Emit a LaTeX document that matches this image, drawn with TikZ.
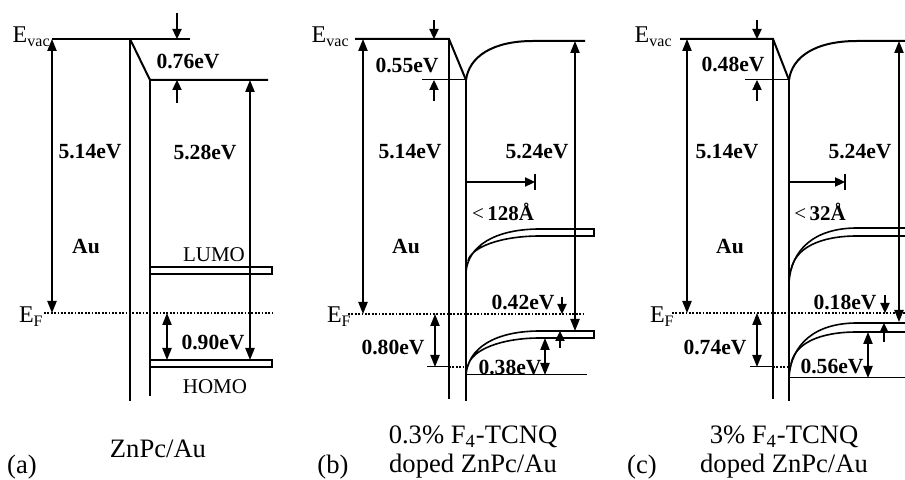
\documentclass[tikz,border=0pt]{standalone}
\usepackage{fontspec}
\setmainfont{Liberation Serif}
\usetikzlibrary{arrows.meta}

\begin{document}
\begin{tikzpicture}[
    x=0.5pt, y=-0.5pt,
    >={Triangle[length=6pt, width=4.6pt]},
    band/.style={line width=1pt},
    thinband/.style={line width=0.5pt},
    bar/.style={line width=0.8pt},
    gap/.style={line width=0.8pt, <->},
    nudge/.style={line width=0.8pt, ->, >={Triangle[length=5pt, width=4.6pt]}},
    fermi/.style={line width=1.4pt, dash pattern=on 0.9pt off 0.8pt},
    val/.style={font=\fontsize{10.8}{12}\selectfont\bfseries, inner sep=0pt},
    tag/.style={font=\fontsize{10.5}{12}\selectfont, inner sep=0pt},
    level/.style={font=\fontsize{12}{14}\selectfont, inner sep=0pt, anchor=base east},
    caption/.style={font=\fontsize{13.3}{14.6}\selectfont, align=center, inner sep=0pt},
]

\useasboundingbox (0,0) rectangle (905,480);

% ============================================================
% (a) ZnPc/Au
% ============================================================
\draw[band] (52,39) -- (190,39);
\draw[band] (130,39) -- (150,80) -- (268,80);
\draw[band] (130,39) -- (130,401);
\draw[band] (150,80) -- (150,396);

% LUMO / HOMO bars
\draw[bar] (150,267) rectangle (272,274);
\draw[bar] (150,360) rectangle (272,367);

% Fermi level
\draw[fermi] (44,313) -- (272,313);

% energy arrows
\draw[gap] (52,39) -- (52,313);
\draw[gap] (250,80) -- (250,360);
\draw[gap] (167,313) -- (167,360);
\draw[nudge] (177,13) -- (177,39);
\draw[nudge] (177,103) -- (177,80);

\node[level] (evacA) at (51,43) {E\textsubscript{vac}};
\node[level] (efA) at (44,323) {E\textsubscript{F}};
\node[val] (phiA) at (90,152) {5.14eV};
\node[val] (ipA) at (205,152) {5.28eV};
\node[val] (dipA) at (188,61) {0.76eV};
\node[val] (auA) at (86,247) {Au};
\node[tag] (lumoA) at (214,255) {LUMO};
\node[tag] (homoA) at (215,387) {HOMO};
\node[val] (holeA) at (213,342) {0.90eV};
\node[caption] (capA) at (158,449) {ZnPc/Au};
\node[caption] (idA) at (22,467) {(a)};

% ============================================================
% (b) 0.3% F4-TCNQ doped ZnPc/Au
% ============================================================
\draw[band] (355,39) -- (449,39) -- (466,80);
\draw[band] (449,39) -- (449,399);
\draw[band] (466,80) -- (466,401);
\draw[band] (466,80) .. controls (469,57) and (492,41) .. (533,41) -- (585,41);
\draw[thinband] (422,80) -- (466,80);

% bent LUMO / HOMO bands
\draw[bar] (466,272) .. controls (468,246) and (495,229) .. (540,229) -- (594,229)
    -- (594,236) -- (540,236) .. controls (501,236) and (471,247) .. (468,261);
\draw[bar] (466,375) .. controls (468,348) and (495,331) .. (540,331) -- (594,331)
    -- (594,338) -- (540,338) .. controls (501,338) and (471,350) .. (468,366);
\draw[thinband] (466,375) -- (587,375);

% Fermi level
\draw[fermi] (348,314) -- (585,314);
\draw[thinband] (427,367) -- (449,367);
\draw[fermi] (449,367) -- (466,367);

% energy arrows
\draw[gap] (363,39) -- (363,314);
\draw[gap] (575,41) -- (575,331);
\draw[gap] (435,314) -- (435,367);
\draw[gap] (545,338) -- (545,375);
\draw[nudge] (434,20) -- (434,39);
\draw[nudge] (434,101) -- (434,80);
\draw[nudge] (562,297) -- (562,314);
\draw[nudge] (560,348) -- (560,331);

% depletion width
\draw[nudge] (466,182) -- (535,182);
\draw[bar] (535,174) -- (535,190);

\node[level] (evacB) at (350,43) {E\textsubscript{vac}};
\node[level] (efB) at (352,323) {E\textsubscript{F}};
\node[val] (dipB) at (407,65) {0.55eV};
\node[val] (phiB) at (410,152) {5.14eV};
\node[val] (ipB) at (537,152) {5.24eV};
\node[tag] (widthB) at (503,212) {<\,\textbf{128Å}};
\node[val] (auB) at (406,247) {Au};
\node[val] (holeB) at (523,302) {0.42eV};
\node[val] (shiftB) at (393,347) {0.80eV};
\node[val] (bendB) at (510,367) {0.38eV};
\node[caption] (capB) at (473,452) {0.3\% F\textsubscript{4}-TCNQ\\doped ZnPc/Au};
\node[caption] (idB) at (333,467) {(b)};

% ============================================================
% (c) 3% F4-TCNQ doped ZnPc/Au
% ============================================================
\draw[band] (680,39) -- (773,39) -- (789,80);
\draw[band] (773,39) -- (773,399);
\draw[band] (789,80) -- (789,401);
\draw[band] (789,80) .. controls (792,57) and (815,41) .. (857,41) -- (905,41);
\draw[thinband] (745,80) -- (789,80);

% bent LUMO / HOMO bands
\draw[bar] (789,283) .. controls (791,249) and (815,228) .. (857,228) -- (905,228);
\draw[bar] (791,270) .. controls (795,248) and (820,236) .. (857,236) -- (905,236);
\draw[bar] (789,378) .. controls (791,344) and (815,323) .. (857,323) -- (905,323);
\draw[bar] (791,364) .. controls (795,343) and (820,332) .. (857,332) -- (905,332);
\draw[thinband] (789,378) -- (905,378);

% Fermi level
\draw[fermi] (672,313) -- (905,313);
\draw[thinband] (750,367) -- (773,367);
\draw[fermi] (773,367) -- (789,367);

% energy arrows
\draw[gap] (687,39) -- (687,313);
\draw[gap] (899,41) -- (899,322);
\draw[gap] (757,313) -- (757,367);
\draw[gap] (868,332) -- (868,378);
\draw[nudge] (757,20) -- (757,39);
\draw[nudge] (757,101) -- (757,80);
\draw[nudge] (885,295) -- (885,313);
\draw[nudge] (884,342) -- (884,323);

% depletion width
\draw[nudge] (789,182) -- (845,182);
\draw[bar] (845,174) -- (845,190);

\node[level] (evacC) at (673,43) {E\textsubscript{vac}};
\node[level] (efC) at (675,323) {E\textsubscript{F}};
\node[val] (dipC) at (733,64) {0.48eV};
\node[val] (phiC) at (727,152) {5.14eV};
\node[val] (ipC) at (860,152) {5.24eV};
\node[tag] (widthC) at (820,212) {<\,\textbf{32Å}};
\node[val] (auC) at (730,247) {Au};
\node[val] (holeC) at (845,302) {0.18eV};
\node[val] (shiftC) at (715,347) {0.74eV};
\node[val] (bendC) at (832,366) {0.56eV};
\node[caption] (capC) at (784,452) {3\% F\textsubscript{4}-TCNQ\\doped ZnPc/Au};
\node[caption] (idC) at (642,467) {(c)};

\end{tikzpicture}
\end{document}
